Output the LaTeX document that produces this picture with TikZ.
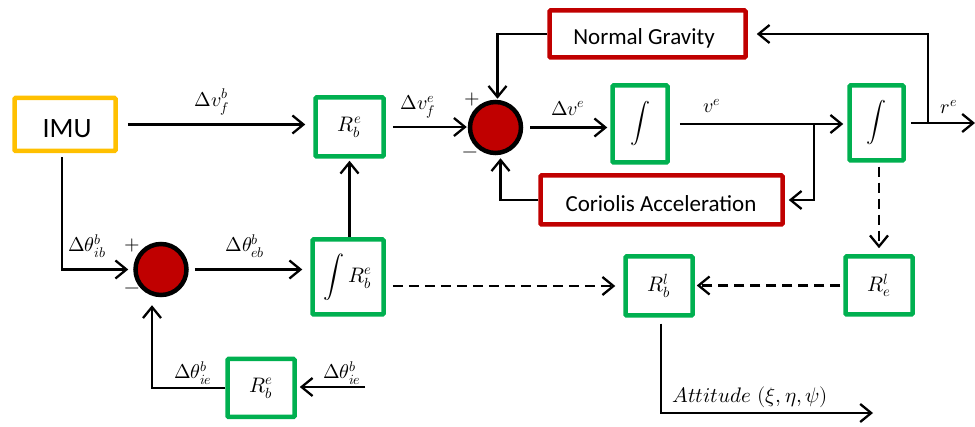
\documentclass[tikz,border=0pt]{standalone}
\usepackage{fontspec}
\usepackage{unicode-math}
\setmathfont{Latin Modern Math}
\newfontfamily\calib{Carlito}
\usetikzlibrary{arrows.meta}
\definecolor{ora}{HTML}{FFC000}
\definecolor{grn}{HTML}{00B050}
\definecolor{dred}{HTML}{C00000}
\begin{document}
\begin{tikzpicture}[x=1pt,y=-1pt,
  gbox/.style={draw=grn,line width=4.5pt,inner sep=0pt,rounded corners=1pt,minimum width=68pt,minimum height=59pt,font=\fontsize{21}{23}\selectfont},
  obox/.style={draw=ora,line width=4.5pt,inner sep=0pt,rounded corners=1pt},
  rbox/.style={draw=dred,line width=4.5pt,inner sep=0pt,rounded corners=1pt},
  sumc/.style={circle,draw=black,fill=dred,line width=4.5pt,minimum size=51pt,inner sep=0pt},
  arr/.style={line width=2.3pt,-{Straight Barb[length=11pt,width=18pt,line width=2.3pt]}},
  darr/.style={arr,dash pattern=on 10pt off 6pt},
  lbl/.style={font=\fontsize{20}{22}\selectfont,inner sep=0pt},
  sgn/.style={font=\fontsize{20}{22}\selectfont,inner sep=0pt},
  btxt/.style={font=\calib\fontsize{23}{26}\selectfont,inner sep=0pt,anchor=base}
]
\useasboundingbox (0,0) rectangle (975,427);
% boxes
\node[obox,minimum width=101pt,minimum height=53pt] (imu) at (65,124.5) {};
\node[btxt,font=\calib\fontsize{28}{30}\selectfont] (imut) at (67,138) {IMU};
\node[gbox] (rbe1) at (349.5,127) {$R_b^e$};
\node[gbox,minimum width=71pt,minimum height=75pt] (irbe) at (348,277) {$\displaystyle\int R_b^e$};
\node[gbox,minimum width=67pt,minimum height=58pt] (rbe2) at (261,388) {$R_b^e$};
\node[sumc] (c1) at (161,269.5) {};
\node[sumc] (c2) at (495.5,127.5) {};
\node[rbox,minimum width=196pt,minimum height=47pt] (ng) at (647.5,34) {};
\node[btxt] (ngt) at (644,45) {Normal Gravity};
\node[rbox,minimum width=242pt,minimum height=49pt] (cor) at (661.5,200) {};
\node[btxt] (cort) at (661,212) {Coriolis Acceleration};
\node[gbox,minimum width=55pt,minimum height=77pt,font=\fontsize{20}{22}\selectfont] (int1) at (640,124) {$\displaystyle\int$};
\node[gbox,minimum width=54pt,minimum height=75pt,font=\fontsize{20}{22}\selectfont] (int2) at (876.5,123) {$\displaystyle\int$};
\node[gbox,minimum width=67pt,minimum height=58pt] (rel) at (879,285.5) {$R_e^l$};
\node[gbox,minimum width=67pt,minimum height=59pt] (rbl) at (659,286) {$R_b^l$};
% free ends
\coordinate (j1) at (814,124);
\coordinate (j2) at (928,123);
\coordinate (rout) at (975,123);
\coordinate (att) at (873,413);
\coordinate (tin) at (365,387);
% connectors
\draw[arr] ([xshift=10pt]imu.east) -- ([xshift=-8pt]imu.east -| rbe1.west);
\draw[arr] ([yshift=-4pt,xshift=-3pt]imu.south) |- ([xshift=-5pt]c1.west);
\draw[arr] ([xshift=6pt]c1.east) -- ([xshift=-8pt]c1.east -| irbe.west);
\draw[arr] (irbe.north -| rbe1.south) -- ([yshift=-2pt]rbe1.south);
\draw[arr] ([xshift=7pt]rbe1.east) -- ([xshift=-1pt]rbe1.east -| c2.west);
\draw[arr] ([xshift=7pt]c2.east) -- ([xshift=-3pt]c2.east -| int1.west);
\draw[arr] ([xshift=10pt]int1.east) -- ([xshift=-4pt]int1.east -| int2.west);
\draw[arr] (j1) |- ([xshift=4pt]cor.east);
\draw[arr] ([xshift=5pt]int2.east) -- (rout);
\draw[arr] (j2) |- ([xshift=9pt]ng.east);
\draw[arr] (ng.west) -| ([xshift=2pt,yshift=1pt]c2.north);
\draw[arr] (cor.west) -| ([xshift=5pt,yshift=-3pt]c2.south);
\draw[darr] ([xshift=7pt]irbe.east |- rbl.west) -- ([xshift=-8pt]rbl.west);
\draw[darr] ([xshift=-3pt]rel.west) -- ([xshift=2pt]rel.west -| rbl.east);
\draw[darr] ([yshift=-4pt]int2.south -| rel.north) -- ([yshift=6pt]rel.north);
\draw[arr] ([yshift=-6pt,xshift=2pt]rbl.south) |- (att);
\draw[arr] (tin) -- ([xshift=3pt]tin -| rbe2.east);
\draw[arr] (rbe2.west) -| ([xshift=-9pt,yshift=-8pt]c1.south);
% labels
\node[lbl] (l1) at (212,102) {$\Delta v_f^b$};
\node[lbl] (l2) at (87,246) {$\Delta\theta_{ib}^b$};
\node[lbl] (l3) at (245,246) {$\Delta\theta_{eb}^b$};
\node[lbl] (l4) at (418,107) {$\Delta v_f^e$};
\node[lbl] (l5) at (568,108) {$\Delta v^e$};
\node[lbl] (l6) at (712,106) {$v^e$};
\node[lbl] (l7) at (949,107) {$r^e$};
\node[lbl] (l8) at (193,373) {$\Delta\theta_{ie}^b$};
\node[lbl] (l9) at (342,373) {$\Delta\theta_{ie}^b$};
\node[lbl,font=\fontsize{21}{23}\selectfont] (l10) at (750,397) {$Attitude\ (\xi,\eta,\psi)$};
\node[sgn] (p1) at (132,246) {$+$};
\node[sgn] (m1) at (132,291) {$-$};
\node[sgn] (p2) at (472,100) {$+$};
\node[sgn] (m2) at (470,155) {$-$};
\end{tikzpicture}
\end{document}
